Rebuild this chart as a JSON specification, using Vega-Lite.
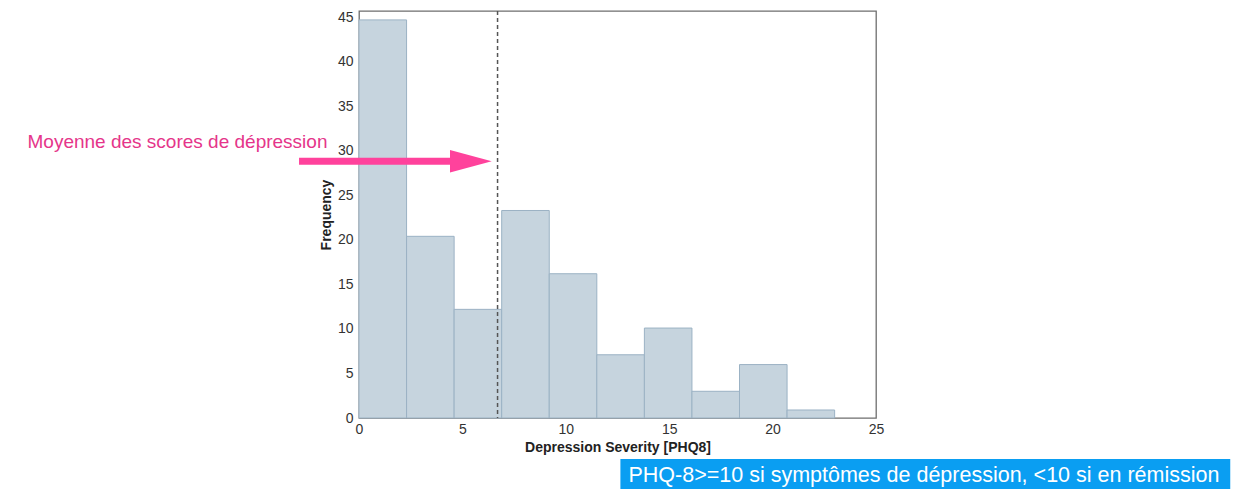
{
  "$schema": "https://vega.github.io/schema/vega-lite/v6.json",
  "autosize": "none",
  "width": 517,
  "height": 407,
  "padding": {"left": 359, "top": 11, "right": 373, "bottom": 72},
  "background": "white",
  "config": {
    "font": "Liberation Sans",
    "view": {"stroke": "#6e6e6e", "strokeWidth": 1.3},
    "axis": {
      "labelFontSize": 14,
      "labelColor": "#333333",
      "titleFontSize": 14,
      "titleFontWeight": "bold",
      "titleColor": "#222222",
      "grid": false,
      "ticks": false,
      "domain": false
    }
  },
  "datasets": {
    "hist": [
      {"bin_start": 0.0, "bin_end": 2.3, "count": 44.7},
      {"bin_start": 2.3, "bin_end": 4.6, "count": 20.4},
      {"bin_start": 4.6, "bin_end": 6.9, "count": 12.2},
      {"bin_start": 6.9, "bin_end": 9.2, "count": 23.3},
      {"bin_start": 9.2, "bin_end": 11.5, "count": 16.2},
      {"bin_start": 11.5, "bin_end": 13.8, "count": 7.1},
      {"bin_start": 13.8, "bin_end": 16.1, "count": 10.1},
      {"bin_start": 16.1, "bin_end": 18.4, "count": 3.0},
      {"bin_start": 18.4, "bin_end": 20.7, "count": 6.0},
      {"bin_start": 20.7, "bin_end": 23.0, "count": 0.9}
    ],
    "mean": [{"mean": 6.7}],
    "arrow": [{"x_start": -2.9, "x_end": 5.0, "y": 28.84, "head_x": 5.41}],
    "note": [{"label": "Moyenne des scores de dépression", "x": -16.03, "y": 30.27}],
    "box": [{"x1": 12.64, "x2": 42.13, "y1": -4.6, "y2": -7.97, "tx": 13.03, "ty": -7.15, "label": "PHQ-8>=10 si symptômes de dépression, <10 si en rémission"}]
  },
  "layer": [
    {
      "data": {"name": "hist"},
      "mark": {"type": "bar", "fill": "#c6d4de", "stroke": "#9bb2c4", "strokeWidth": 1},
      "encoding": {
        "x": {
          "field": "bin_start", "type": "quantitative",
          "scale": {"domain": [0, 25], "nice": false, "zero": false},
          "axis": {"title": "Depression Severity [PHQ8]", "values": [0, 5, 10, 15, 20, 25], "labelPadding": 4, "titlePadding": 4, "labelFlush": false}
        },
        "x2": {"field": "bin_end"},
        "y": {
          "field": "count", "type": "quantitative",
          "scale": {"domain": [0, 45.7], "nice": false, "zero": false},
          "axis": {"title": "Frequency", "values": [0, 5, 10, 15, 20, 25, 30, 35, 40, 45], "labelPadding": 6, "titlePadding": 4, "labelFlush": false}
        },
        "y2": {"datum": 0}
      }
    },
    {
      "data": {"name": "mean"},
      "mark": {"type": "rule", "stroke": "#555555", "strokeWidth": 1.5, "strokeDash": [4, 3]},
      "encoding": {
        "x": {"field": "mean", "type": "quantitative", "scale": {"domain": [0, 25], "nice": false, "zero": false}}
      }
    },
    {
      "data": {"name": "arrow"},
      "mark": {"type": "rule", "stroke": "#ff429c", "strokeWidth": 7},
      "encoding": {
        "x": {"field": "x_start", "type": "quantitative", "scale": {"domain": [0, 25], "nice": false, "zero": false}},
        "x2": {"field": "x_end"},
        "y": {"field": "y", "type": "quantitative", "scale": {"domain": [0, 45.7], "nice": false, "zero": false}}
      }
    },
    {
      "data": {"name": "arrow"},
      "mark": {"type": "point", "shape": "M -1 -0.54 L 1 0 L -1 0.54 Z", "filled": true, "fill": "#ff429c", "opacity": 1, "size": 1739, "strokeWidth": 0},
      "encoding": {
        "x": {"field": "head_x", "type": "quantitative", "scale": {"domain": [0, 25], "nice": false, "zero": false}},
        "y": {"field": "y", "type": "quantitative", "scale": {"domain": [0, 45.7], "nice": false, "zero": false}}
      }
    },
    {
      "data": {"name": "note"},
      "mark": {"type": "text", "align": "left", "baseline": "alphabetic", "fontSize": 19, "color": "#e5358a"},
      "encoding": {
        "x": {"field": "x", "type": "quantitative", "scale": {"domain": [0, 25], "nice": false, "zero": false}},
        "y": {"field": "y", "type": "quantitative", "scale": {"domain": [0, 45.7], "nice": false, "zero": false}},
        "text": {"field": "label"}
      }
    },
    {
      "data": {"name": "box"},
      "mark": {"type": "rect", "fill": "#0a9ef2"},
      "encoding": {
        "x": {"field": "x1", "type": "quantitative", "scale": {"domain": [0, 25], "nice": false, "zero": false}},
        "x2": {"field": "x2"},
        "y": {"field": "y1", "type": "quantitative", "scale": {"domain": [0, 45.7], "nice": false, "zero": false}},
        "y2": {"field": "y2"}
      }
    },
    {
      "data": {"name": "box"},
      "mark": {"type": "text", "align": "left", "baseline": "alphabetic", "fontSize": 21.5, "color": "white"},
      "encoding": {
        "x": {"field": "tx", "type": "quantitative", "scale": {"domain": [0, 25], "nice": false, "zero": false}},
        "y": {"field": "ty", "type": "quantitative", "scale": {"domain": [0, 45.7], "nice": false, "zero": false}},
        "text": {"field": "label"}
      }
    }
  ]
}
